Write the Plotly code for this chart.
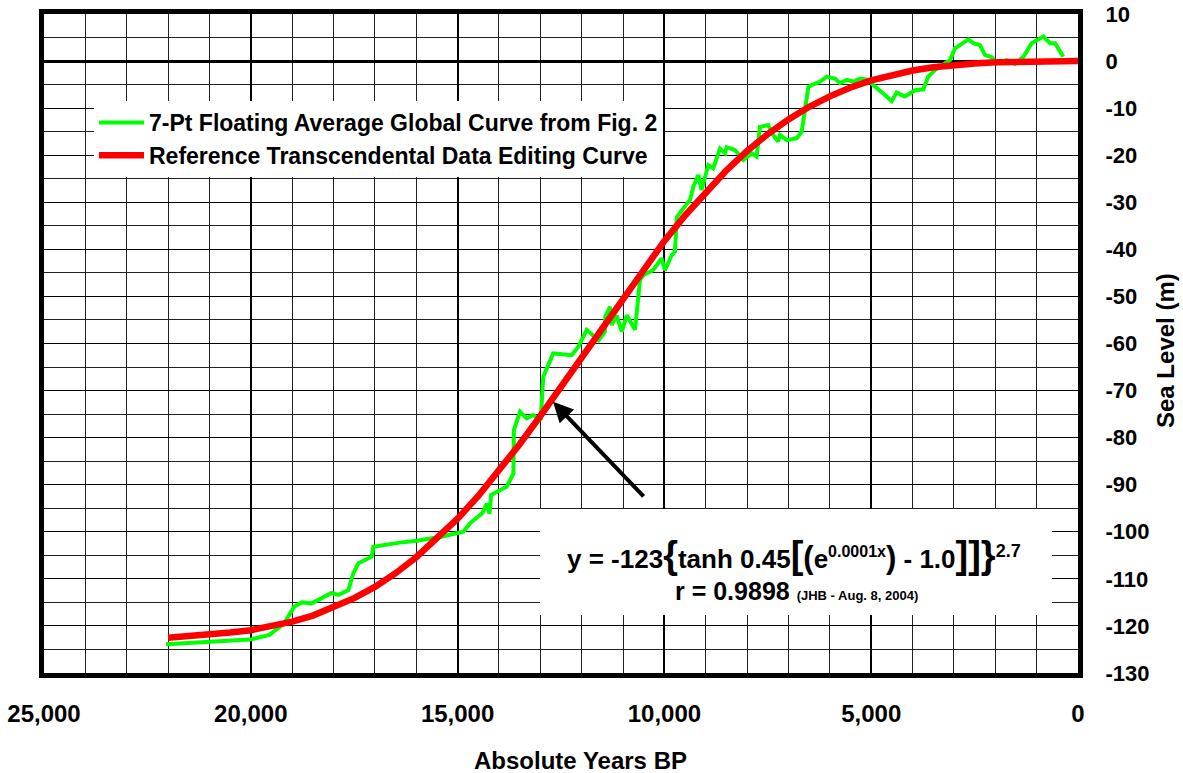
import plotly.graph_objects as go

# ---------------- data ----------------
green_years = [22050, 21000, 20020, 19550, 19200, 18950, 18770, 18530, 18285, 18045,
               17880, 17640, 17520, 17400, 17077, 17037, 16400, 15990, 15425, 15180,
               15020, 14860, 14700, 14400, 14290, 14230, 14190, 13810, 13650, 13640,
               13490, 13330, 13170, 12990, 12930, 12690, 12240, 12080, 11880, 11590,
               11440, 11430, 11315, 11275, 11155, 11030, 10910, 10710, 10590, 10510,
               10270, 10070, 9985, 9820, 9745, 9700, 9380, 9300, 9180, 9100,
               8940, 8820, 8655, 8535, 8495, 8295, 8090, 7890, 7770, 7690,
               7490, 7370, 7250, 7205, 7045, 6800, 6680, 6520, 6440, 6240,
               6075, 5875, 5755, 5590, 5430, 5270, 5070, 4950, 4710, 4505,
               4385, 4185, 3940, 3740, 3620, 3460, 3095, 2975, 2650, 2530,
               2370, 2250, 2085, 1965, 1725, 1525, 1320, 1120, 840, 675,
               555, 355]
green_level = [-123.9, -123.4, -122.9, -121.9, -119.5, -115.9, -115.0, -115.2, -114.2, -113.0,
               -113.4, -112.4, -108.8, -106.7, -105.3, -103.2, -102.3, -101.9, -101.1, -100.7,
               -100.4, -100.0, -98.2, -96.0, -94.0, -96.2, -92.2, -90.4, -87.6, -78.4,
               -74.5, -75.9, -75.2, -76.3, -67.1, -62.1, -62.5, -60.7, -57.1, -59.3,
               -57.5, -54.3, -52.2, -56.1, -54.0, -57.5, -54.0, -57.1, -46.5, -45.5,
               -44.4, -41.9, -44.4, -41.2, -40.5, -33.1, -29.5, -26.7, -24.2, -27.4,
               -22.1, -22.8, -18.6, -19.6, -18.3, -18.9, -21.0, -19.6, -20.3, -14.0,
               -13.6, -15.7, -17.1, -15.7, -16.8, -16.4, -15.0, -5.5, -5.1, -4.4,
               -3.3, -3.7, -4.7, -4.0, -4.4, -3.7, -4.0, -5.1, -6.9, -8.5,
               -6.7, -7.5, -6.2, -6.0, -3.3, -1.9, 0.2, 2.7, 4.6, 3.8,
               3.4, 1.3, 0.8, -0.5, 0.2, -0.6, 0.9, 3.8, 5.2, 3.8,
               3.8, 0.9]

red_years = [22000, 21500, 21000, 20500, 20000, 19500, 19000, 18500, 18000, 17500,
             17000, 16500, 16000, 15500, 15000, 14500, 14000, 13500, 13000, 12500,
             12000, 11500, 11000, 10500, 10000, 9500, 9000, 8500, 8000, 7500,
             7000, 6500, 6000, 5500, 5000, 4500, 4000, 3500, 3000, 2500,
             2000, 1500, 1000, 500, 0]
red_level = [-122.5, -122.2, -121.9, -121.4, -120.9, -120.1, -119.1, -117.8, -116.1, -114.1,
             -111.7, -108.8, -105.4, -101.5, -97.2, -92.4, -87.1, -81.4, -75.4, -69.2,
             -62.9, -56.5, -50.1, -44.1, -38.2, -32.8, -27.8, -23.2, -19.1, -15.5,
             -12.4, -9.7, -7.5, -5.6, -4.1, -2.9, -2.0, -1.3, -0.8, -0.5,
             -0.24, -0.1, -0.03, 0.0, 0.0]

x_tick_vals = [25000, 20000, 15000, 10000, 5000, 0]
x_tick_text = ["25,000", "20,000", "15,000", "10,000", "5,000", "0"]
y_tick_vals = [10, 0, -10, -20, -30, -40, -50, -60, -70, -80, -90, -100, -110, -120, -130]
y_tick_text = ["10", "0", "-10", "-20", "-30", "-40", "-50", "-60", "-70", "-80",
               "-90", "-100", "-110", "-120", "-130"]

green_name = "7-Pt Floating Average Global Curve from Fig. 2"
red_name = "Reference Transcendental Data Editing Curve"

# ---------------- layout geometry ----------------
W, H = 1183, 773
L, R, T, B = 44, 105, 14, 100
PW, PH = W - L - R, H - T - B


def px(xp):
    return (xp - L) / PW


def py(yp):
    return 1 - (yp - T) / PH


FONT = "Liberation Sans, Arial, sans-serif"
NARROW = "Liberation Sans Narrow, Arial Narrow, Liberation Sans, Arial, sans-serif"

fig = go.Figure()
fig.add_trace(go.Scatter(x=green_years, y=green_level, mode="lines", name=green_name,
                         line=dict(color="#00FF00", width=4)))
fig.add_trace(go.Scatter(x=red_years, y=red_level, mode="lines", name=red_name,
                         line=dict(color="#FF0000", width=6.5)))

fig.update_layout(
    width=W, height=H,
    margin=dict(l=L, r=R, t=T, b=B, autoexpand=False),
    paper_bgcolor="white", plot_bgcolor="white",
    font=dict(family=FONT, color="black"),
    showlegend=True,
    legend=dict(x=px(94), y=py(101), xanchor="left", yanchor="top",
                bgcolor="white", borderwidth=0,
                font=dict(family=FONT, size=23, color="black", weight="bold"),
                itemwidth=45, tracegroupgap=0),
    xaxis=dict(range=[25000, 0], tickmode="array", tickvals=x_tick_vals, ticktext=x_tick_text,
               automargin=False,
               showgrid=True, gridcolor="black", gridwidth=2,
               minor=dict(dtick=1000, tick0=0, showgrid=True, gridcolor="#222", gridwidth=1),
               showline=True, linecolor="black", linewidth=5, mirror=True,
               zeroline=False, ticks="", ticklabelstandoff=15,
               tickfont=dict(family=FONT, size=24, color="black", weight="bold")),
    yaxis=dict(range=[-130, 10], side="right", tickmode="array", tickvals=y_tick_vals,
               ticktext=y_tick_text, automargin=False,
               showgrid=True, gridcolor="black", gridwidth=1,
               minor=dict(dtick=5, tick0=0, showgrid=True, gridcolor="#222", gridwidth=1),
               showline=True, linecolor="black", linewidth=5, mirror=True,
               zeroline=True, zerolinecolor="black", zerolinewidth=3,
               ticks="", ticklabelstandoff=18,
               tickfont=dict(family=FONT, size=22, color="black", weight="bold")),
)

# equation box
fig.add_shape(type="rect", xref="paper", yref="paper",
              x0=px(540), x1=px(1052), y0=py(615), y1=py(509),
              fillcolor="white", line=dict(width=0), layer="above")

eq = ("y = -123<span style='font-size:38px'>{</span>tanh 0.45"
      "<span style='font-size:38px'>[</span><span style='font-size:31px'>(</span>e"
      "<sup><span style='font-size:16px'>0.0001x</span></sup>"
      "<span style='font-size:31px'>)</span> - 1.0"
      "<span style='font-size:38px'>]]}</span>"
      "<sup><span style='font-size:18px'>2.7</span></sup>")
fig.add_annotation(xref="paper", yref="paper", x=px(794), y=py(555), text=eq,
                   showarrow=False, xanchor="center", yanchor="middle",
                   font=dict(family=NARROW, size=26, color="black", weight="bold"))
fig.add_annotation(xref="paper", yref="paper", x=px(796), y=py(591),
                   text="r = 0.9898 <span style='font-size:13px'>(JHB - Aug. 8, 2004)</span>",
                   showarrow=False, xanchor="center", yanchor="middle",
                   font=dict(family=NARROW, size=25, color="black", weight="bold"))

# arrow pointing at the red curve
fig.add_annotation(x=12693, y=-72.4, xref="x", yref="y", text="",
                   showarrow=True, ax=92, ay=96, axref="pixel", ayref="pixel",
                   arrowhead=2, arrowsize=1, arrowwidth=4, arrowcolor="black")

# axis titles
fig.add_annotation(xref="paper", yref="paper", x=px(580), y=py(760), text="Absolute Years BP",
                   showarrow=False, xanchor="center", yanchor="middle",
                   font=dict(family=FONT, size=24, color="black", weight="bold"))
fig.add_annotation(xref="paper", yref="paper", x=px(1165), y=py(351), text="Sea Level (m)",
                   showarrow=False, xanchor="center", yanchor="middle", textangle=-90,
                   font=dict(family=FONT, size=24, color="black", weight="bold"))

fig.write_html("out.html")
